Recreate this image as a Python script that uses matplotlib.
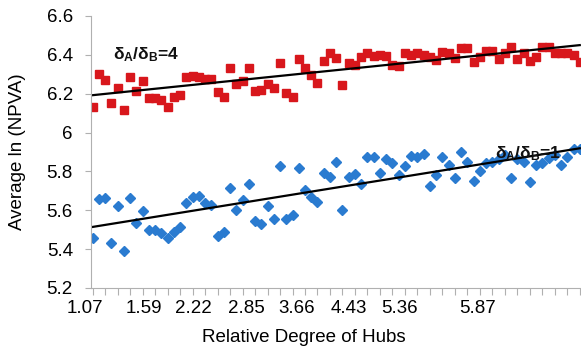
import numpy as np
import matplotlib
matplotlib.use('Agg')
import matplotlib.pyplot as plt
import matplotlib.transforms as mtransforms

plt.rcParams['font.family'] = ['Liberation Sans', 'DejaVu Sans']
plt.rcParams['mathtext.fontset'] = 'custom'
plt.rcParams['mathtext.rm'] = 'Liberation Sans'
plt.rcParams['mathtext.it'] = 'Liberation Sans'
plt.rcParams['mathtext.bf'] = 'Liberation Sans:bold'

# average ln(NPVA), delta_A/delta_B = 4 (red squares)
npva_ratio4 = [6.133, 6.30, 6.27, 6.154, 6.228, 6.116, 6.285, 6.215, 6.267, 6.176,
               6.176, 6.168, 6.133, 6.185, 6.192, 6.285, 6.29, 6.285, 6.277, 6.277,
               6.21, 6.185, 6.33, 6.25, 6.267,
               6.33, 6.214, 6.219, 6.25, 6.231, 6.357, 6.205, 6.185, 6.377, 6.33,
               6.296, 6.254, 6.37, 6.408, 6.382, 6.245, 6.36, 6.348, 6.387, 6.408,
               6.394, 6.40, 6.394, 6.348, 6.343, 6.411, 6.40,
               6.408, 6.40, 6.39, 6.374, 6.416, 6.408, 6.382, 6.434, 6.434, 6.365,
               6.387, 6.42, 6.42, 6.377, 6.41, 6.442, 6.377, 6.408, 6.37, 6.387,
               6.442, 6.442, 6.408, 6.408, 6.408, 6.40, 6.365]

# delta_A/delta_B = 1 (blue diamonds)
npva_ratio1 = [5.456, 5.657, 5.662, 5.43, 5.622, 5.392, 5.662, 5.533, 5.598, 5.50,
               5.50, 5.485, 5.456, 5.49, 5.516, 5.636, 5.67, 5.674, 5.64, 5.627,
               5.468, 5.49, 5.713, 5.60, 5.653,
               5.735, 5.546, 5.53, 5.622, 5.553, 5.828, 5.557, 5.576, 5.816, 5.704,
               5.667, 5.644, 5.79, 5.773, 5.85, 5.60, 5.77, 5.787, 5.735, 5.873,
               5.876, 5.793, 5.862, 5.842, 5.782, 5.828, 5.879,
               5.876, 5.89, 5.725, 5.782, 5.873, 5.833, 5.765, 5.901, 5.85, 5.752,
               5.804, 5.842, 5.85, 5.862, 5.885, 5.765, 5.862, 5.85, 5.747, 5.833,
               5.842, 5.867, 5.885, 5.833, 5.876, 5.914, 5.914]

# category labels shown on the x axis, and where they sit (category index)
xlabels = ['1.07', '1.59', '2.22', '2.85', '3.66', '4.43', '5.36', '5.87']
xlabel_pos = [-1.2, 8.2, 16.2, 24.6, 32.7, 41.0, 49.2, 61.6]

W, H = 581, 354
fig = plt.figure(figsize=(W / 100, H / 100), dpi=100)
ax = fig.add_axes([91 / W, 66 / H, 490 / W, 272 / H])

x = np.arange(len(npva_ratio4))
ax.plot(x, npva_ratio4, ls='none', marker='s', ms=6.2, color='#d8171c', mec='#d8171c')
ax.plot(x, npva_ratio1, ls='none', marker='D', ms=5.2, color='#2a7bd0', mec='#2a7bd0')

# linear trendlines
for y in (npva_ratio4, npva_ratio1):
    k, b = np.polyfit(x, y, 1)
    ax.plot([x[0], x[-1]], [k * x[0] + b, k * x[-1] + b], color='black', lw=1.6)

ax.set_xlim(-0.27, 78.2)
ax.set_ylim(5.2, 6.6)
ax.set_yticks(np.arange(5.2, 6.61, 0.2))
ax.set_yticklabels(['{:g}'.format(round(v, 1)) for v in np.arange(5.2, 6.61, 0.2)],
                   fontsize=13.5)
ax.tick_params(axis='y', length=4, color='#b0b0b0', pad=9)

ax.set_xticks(np.arange(0, 79, 2))
ax.set_xticklabels([])
ax.tick_params(axis='x', length=5, color='#b0b0b0')

trans = mtransforms.blended_transform_factory(ax.transData, ax.transAxes)
for p, lab in zip(xlabel_pos, xlabels):
    ax.text(p, -0.075, lab, transform=trans, ha='center', va='center',
            fontsize=13.5, clip_on=False)

for s in ['top', 'right']:
    ax.spines[s].set_visible(False)
ax.spines['left'].set_color('#b0b0b0')
ax.spines['bottom'].set_color('#b0b0b0')

ax.text(3.3, 6.40, r'$\mathbf{\delta_A/\delta_B}$=4', fontsize=12.5,
        fontweight='bold', ha='left', va='center', color='#111111')
ax.text(64.5, 5.89, r'$\mathbf{\delta_A/\delta_B}$=1', fontsize=12.5,
        fontweight='bold', ha='left', va='center', color='#111111')

fig.text(18 / W, 1 - 152 / H, 'Average ln (NPVA)', rotation=90, ha='center',
         va='center', fontsize=13.5)
fig.text(304 / W, 1 - 337 / H, 'Relative Degree of Hubs', ha='center',
         va='center', fontsize=13.5)

fig.savefig('out.png', dpi=100)
